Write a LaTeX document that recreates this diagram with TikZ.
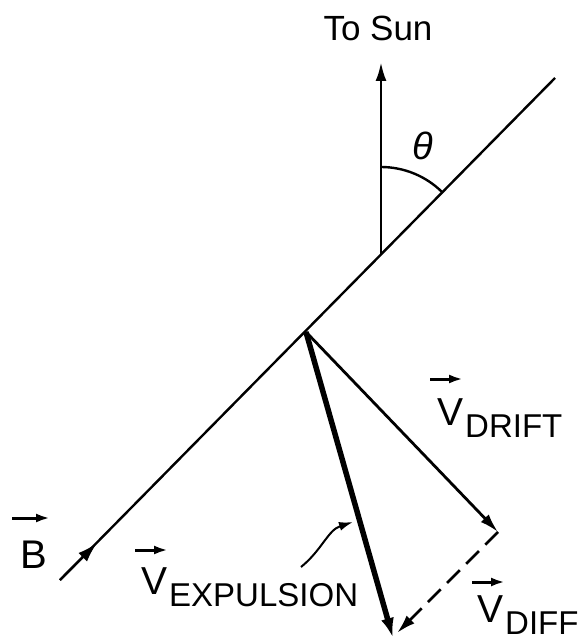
\documentclass[tikz,border=0pt]{standalone}
\usepackage{fontspec}
\setmainfont{Liberation Sans}
\usepackage{tikz}
\usetikzlibrary{calc, arrows.meta}
\usetikzlibrary{positioning}

\tikzset{
  field/.style={line width=2.4pt},
  vecline/.style={line width=2.8pt, -{Latex[length=19pt,width=11pt]}},
  heavy/.style={line width=5.5pt, -{Latex[length=20pt,width=13pt]}},
  overarrow/.style={line width=3pt, -{Latex[length=14pt,width=9pt]}},
  lettering/.style={inner sep=0pt, font=\fontsize{39}{39}\selectfont},
}
\newcommand{\vsub}[1]{V\kern2pt\raisebox{-12pt}{\fontsize{33}{33}\selectfont #1}}

\begin{document}
\begin{tikzpicture}[x=1pt, y=-1pt]
    \useasboundingbox (0,0) rectangle (582,644);
    % magnetic field line
    \coordinate (bstart) at (60,580);
    \coordinate (bend) at (555,78);
    \coordinate (bmark) at (97,543);
    \draw[field] (bstart) -- (bend);
    \draw[field, -{Latex[length=20pt,width=12pt]}] (bstart) -- (bmark);
    \node[lettering, anchor=base west, font=\fontsize{40}{40}\selectfont] (blbl) at (20,568) {B};
    \draw[overarrow] ([shift={(-8,-50)}]blbl.base west) -- ++(38,0);
    % sun direction and angle
    \coordinate (sunfoot) at (381,254);
    \coordinate (sun) at (381,62);
    \draw[vecline] (sunfoot) -- (sun);
    \node[lettering, font=\fontsize{35}{35}\selectfont] (tosun) at (378,28) {To Sun};
    \draw[line width=2.4pt] (sunfoot) ++(0,-87) arc[start angle=-90, end angle=-45, radius=87];
    \node[inner sep=0pt, font=\fontsize{38}{38}\selectfont\itshape] (theta) at (423,146) {θ};
    % velocity vectors
    \coordinate (orig) at (306,332);
    \coordinate (drift) at (498,532);
    \coordinate (expl) at (393,638);
    \draw[vecline] (orig) -- (drift);
    \draw[heavy] (orig) -- (expl);
    \draw[vecline, dash pattern=on 18pt off 9pt] (drift) -- ([shift={(4,-5)}]expl);
    % labels
    \node[lettering, anchor=base west] (vdrift) at (437,425) {\vsub{DRIFT}};
    \draw[overarrow] ([shift={(-7,-46)}]vdrift.base west) -- ++(33,0);
    \node[lettering, anchor=base west] (vexpl) at (141,594) {\vsub{EXPULSION}};
    \draw[overarrow] ([shift={(-6,-44)}]vexpl.base west) -- ++(33,0);
    \node[lettering, anchor=base west] (vdiff) at (477,622) {\vsub{DIFF}};
    \draw[overarrow] ([shift={(-5,-40)}]vdiff.base west) -- ++(33,0);
    % leader to expulsion vector
    \coordinate (lead) at (301,567);
    \coordinate (leadtip) at (353,522);
    \draw[line width=2pt, -{Latex[length=14pt,width=9pt]}] (lead) .. controls (322,550) and (328,530) .. (leadtip);
\end{tikzpicture}
\end{document}
